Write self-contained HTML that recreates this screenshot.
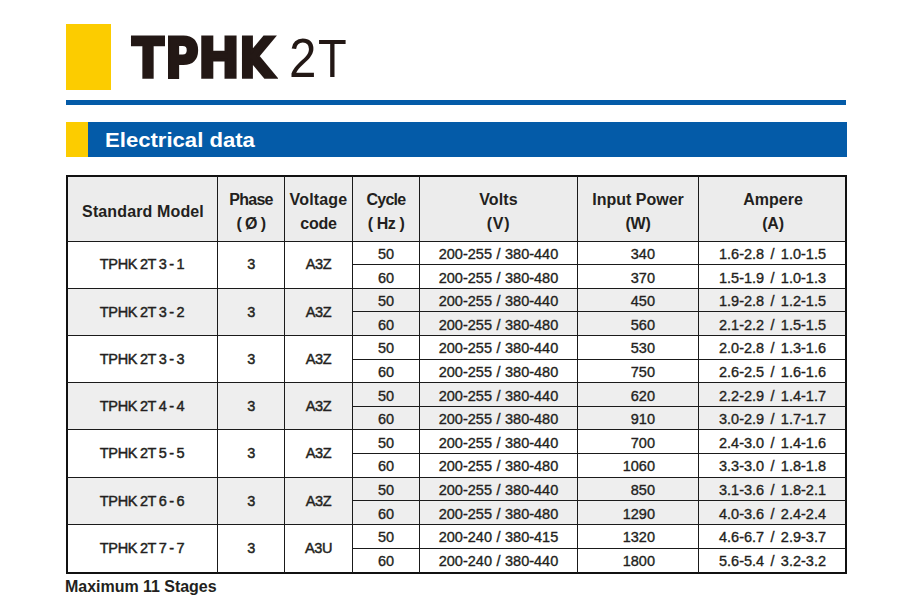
<!DOCTYPE html>
<html lang="en"><head><meta charset="utf-8"><title>TPHK 2T - Electrical data</title>
<style>
html,body{margin:0;padding:0;background:#fff;}
body{width:914px;height:608px;position:relative;overflow:hidden;font-family:"Liberation Sans",sans-serif;color:#231f20;}
.abs{position:absolute;}
.c{position:absolute;text-align:center;white-space:nowrap;}
.h{font-weight:bold;font-size:16px;line-height:24px;letter-spacing:-0.3px;}
.d{font-size:14.5px;line-height:24px;height:24px;-webkit-text-stroke:0.35px #231f20;}
.m{font-size:14.5px;line-height:24px;height:24px;letter-spacing:-0.35px;word-spacing:-0.9px;-webkit-text-stroke:0.45px #231f20;}
.ln{position:absolute;background:#1a1a1a;}
.sh{position:absolute;background:#eeeeee;}
</style></head><body>

<div class="abs" style="left:66px;top:24px;width:45px;height:66px;background:#fccc00"></div>
<div class="abs" id="title" style="left:0;top:0;color:#231815;white-space:nowrap;"><span style="position:absolute;left:131.5px;top:30.5px;font:bold 56px/1 'DejaVu Sans','Liberation Sans',sans-serif;-webkit-text-stroke:3px #231815;transform-origin:0 0;transform:scale(0.838,0.97);">T</span><span style="position:absolute;left:164.5px;top:30.0px;font:bold 56px/1 'DejaVu Sans','Liberation Sans',sans-serif;-webkit-text-stroke:3px #231815;transform-origin:0 0;transform:scale(0.823,0.99);">P</span><span style="position:absolute;left:197.5px;top:30.0px;font:bold 56px/1 'DejaVu Sans','Liberation Sans',sans-serif;-webkit-text-stroke:3px #231815;transform-origin:0 0;transform:scale(0.893,0.99);">H</span><span style="position:absolute;left:238.5px;top:30.0px;font:bold 56px/1 'DejaVu Sans','Liberation Sans',sans-serif;-webkit-text-stroke:3px #231815;transform-origin:0 0;transform:scale(0.812,0.99);">K</span> <span style="position:absolute;left:288.5px;top:30.5px;font:normal 52px/1 'Liberation Sans',sans-serif;transform-origin:0 0;transform:scale(0.948,1.05);">2</span><span style="position:absolute;left:317.5px;top:30.5px;font:normal 52px/1 'Liberation Sans',sans-serif;transform-origin:0 0;transform:scale(0.903,1.035);">T</span></div>
<div class="abs" style="left:66px;top:100px;width:780px;height:5px;background:#045ba8"></div>
<div class="abs" style="left:66px;top:122px;width:22px;height:35px;background:#fccc00"></div>
<div class="abs" style="left:88px;top:122px;width:759px;height:35px;background:#045ba8"></div>
<div class="abs" id="ed" style="left:104.5px;top:122px;height:35px;line-height:37px;font-size:20px;font-weight:bold;color:#fff;white-space:nowrap;transform-origin:0 50%;transform:scaleX(1.105);">Electrical data</div>
<div class="sh" style="left:66px;top:175px;width:781px;height:66px;background:#ececec"></div>
<div class="sh" style="left:66px;top:288px;width:781px;height:47px"></div>
<div class="sh" style="left:66px;top:382px;width:781px;height:47px"></div>
<div class="sh" style="left:66px;top:477px;width:781px;height:47px"></div>
<div class="abs" style="left:66px;top:175px;width:777px;height:395px;border:2px solid #111;"></div>
<div class="ln" style="left:217px;top:176px;width:1px;height:397px"></div>
<div class="ln" style="left:284px;top:176px;width:1px;height:397px"></div>
<div class="ln" style="left:352px;top:176px;width:1px;height:397px"></div>
<div class="ln" style="left:419px;top:176px;width:1px;height:397px"></div>
<div class="ln" style="left:577px;top:176px;width:1px;height:397px"></div>
<div class="ln" style="left:698px;top:176px;width:1px;height:397px"></div>
<div class="ln" style="left:67px;top:241px;width:779px;height:1px"></div>
<div class="ln" style="left:352px;top:264px;width:494px;height:1px"></div>
<div class="ln" style="left:67px;top:288px;width:779px;height:1px"></div>
<div class="ln" style="left:352px;top:311px;width:494px;height:1px"></div>
<div class="ln" style="left:67px;top:335px;width:779px;height:1px"></div>
<div class="ln" style="left:352px;top:359px;width:494px;height:1px"></div>
<div class="ln" style="left:67px;top:382px;width:779px;height:1px"></div>
<div class="ln" style="left:352px;top:406px;width:494px;height:1px"></div>
<div class="ln" style="left:67px;top:429px;width:779px;height:1px"></div>
<div class="ln" style="left:352px;top:453px;width:494px;height:1px"></div>
<div class="ln" style="left:67px;top:477px;width:779px;height:1px"></div>
<div class="ln" style="left:352px;top:500px;width:494px;height:1px"></div>
<div class="ln" style="left:67px;top:524px;width:779px;height:1px"></div>
<div class="ln" style="left:352px;top:548px;width:494px;height:1px"></div>
<div class="c h" style="left:68px;width:150px;top:200px;letter-spacing:0.13px;">Standard Model</div>
<div class="c h" style="left:217px;width:68px;top:188px;letter-spacing:-0.72px;">Phase</div>
<div class="c h" style="left:217px;width:68px;top:212px;letter-spacing:-0.57px;">( Ø )</div>
<div class="c h" style="left:284px;width:69px;top:188px;letter-spacing:0.17px;">Voltage</div>
<div class="c h" style="left:284px;width:69px;top:212px;letter-spacing:-0.17px;">code</div>
<div class="c h" style="left:352px;width:68px;top:188px;letter-spacing:-0.78px;">Cycle</div>
<div class="c h" style="left:352px;width:68px;top:212px;letter-spacing:-0.42px;">( Hz )</div>
<div class="c h" style="left:419px;width:159px;top:188px;letter-spacing:0.1px;">Volts</div>
<div class="c h" style="left:419px;width:159px;top:212px;letter-spacing:0.7px;">(V)</div>
<div class="c h" style="left:577px;width:122px;top:188px;letter-spacing:0px;">Input Power</div>
<div class="c h" style="left:577px;width:122px;top:212px;letter-spacing:-0.3px;">(W)</div>
<div class="c h" style="left:698px;width:150px;top:188px;letter-spacing:0px;">Ampere</div>
<div class="c h" style="left:698px;width:150px;top:212px;letter-spacing:-0.3px;">(A)</div>
<div class="c m" style="left:66px;width:152px;top:252px;">TPHK 2T 3 - 1</div>
<div class="c m" style="left:217px;width:68px;top:252px;">3</div>
<div class="c m" style="left:284px;width:69px;top:252px;">A3Z</div>
<div class="c d" style="left:352px;width:68px;top:242px;">50</div>
<div class="c d" style="left:419px;width:159px;top:242px;word-spacing:0.5px;">200-255 / 380-440</div>
<div class="c d" style="left:577px;width:78px;top:242px;text-align:right;">340</div>
<div class="c d" style="left:698px;width:149px;top:242px;word-spacing:2.3px;">1.6-2.8 / 1.0-1.5</div>
<div class="c d" style="left:352px;width:68px;top:266px;">60</div>
<div class="c d" style="left:419px;width:159px;top:266px;word-spacing:0.5px;">200-255 / 380-480</div>
<div class="c d" style="left:577px;width:78px;top:266px;text-align:right;">370</div>
<div class="c d" style="left:698px;width:149px;top:266px;word-spacing:2.3px;">1.5-1.9 / 1.0-1.3</div>
<div class="c m" style="left:66px;width:152px;top:300px;">TPHK 2T 3 - 2</div>
<div class="c m" style="left:217px;width:68px;top:300px;">3</div>
<div class="c m" style="left:284px;width:69px;top:300px;">A3Z</div>
<div class="c d" style="left:352px;width:68px;top:289px;">50</div>
<div class="c d" style="left:419px;width:159px;top:289px;word-spacing:0.5px;">200-255 / 380-440</div>
<div class="c d" style="left:577px;width:78px;top:289px;text-align:right;">450</div>
<div class="c d" style="left:698px;width:149px;top:289px;word-spacing:2.3px;">1.9-2.8 / 1.2-1.5</div>
<div class="c d" style="left:352px;width:68px;top:313px;">60</div>
<div class="c d" style="left:419px;width:159px;top:313px;word-spacing:0.5px;">200-255 / 380-480</div>
<div class="c d" style="left:577px;width:78px;top:313px;text-align:right;">560</div>
<div class="c d" style="left:698px;width:149px;top:313px;word-spacing:2.3px;">2.1-2.2 / 1.5-1.5</div>
<div class="c m" style="left:66px;width:152px;top:347px;">TPHK 2T 3 - 3</div>
<div class="c m" style="left:217px;width:68px;top:347px;">3</div>
<div class="c m" style="left:284px;width:69px;top:347px;">A3Z</div>
<div class="c d" style="left:352px;width:68px;top:336px;">50</div>
<div class="c d" style="left:419px;width:159px;top:336px;word-spacing:0.5px;">200-255 / 380-440</div>
<div class="c d" style="left:577px;width:78px;top:336px;text-align:right;">530</div>
<div class="c d" style="left:698px;width:149px;top:336px;word-spacing:2.3px;">2.0-2.8 / 1.3-1.6</div>
<div class="c d" style="left:352px;width:68px;top:360px;">60</div>
<div class="c d" style="left:419px;width:159px;top:360px;word-spacing:0.5px;">200-255 / 380-480</div>
<div class="c d" style="left:577px;width:78px;top:360px;text-align:right;">750</div>
<div class="c d" style="left:698px;width:149px;top:360px;word-spacing:2.3px;">2.6-2.5 / 1.6-1.6</div>
<div class="c m" style="left:66px;width:152px;top:394px;">TPHK 2T 4 - 4</div>
<div class="c m" style="left:217px;width:68px;top:394px;">3</div>
<div class="c m" style="left:284px;width:69px;top:394px;">A3Z</div>
<div class="c d" style="left:352px;width:68px;top:384px;">50</div>
<div class="c d" style="left:419px;width:159px;top:384px;word-spacing:0.5px;">200-255 / 380-440</div>
<div class="c d" style="left:577px;width:78px;top:384px;text-align:right;">620</div>
<div class="c d" style="left:698px;width:149px;top:384px;word-spacing:2.3px;">2.2-2.9 / 1.4-1.7</div>
<div class="c d" style="left:352px;width:68px;top:407px;">60</div>
<div class="c d" style="left:419px;width:159px;top:407px;word-spacing:0.5px;">200-255 / 380-480</div>
<div class="c d" style="left:577px;width:78px;top:407px;text-align:right;">910</div>
<div class="c d" style="left:698px;width:149px;top:407px;word-spacing:2.3px;">3.0-2.9 / 1.7-1.7</div>
<div class="c m" style="left:66px;width:152px;top:441px;">TPHK 2T 5 - 5</div>
<div class="c m" style="left:217px;width:68px;top:441px;">3</div>
<div class="c m" style="left:284px;width:69px;top:441px;">A3Z</div>
<div class="c d" style="left:352px;width:68px;top:431px;">50</div>
<div class="c d" style="left:419px;width:159px;top:431px;word-spacing:0.5px;">200-255 / 380-440</div>
<div class="c d" style="left:577px;width:78px;top:431px;text-align:right;">700</div>
<div class="c d" style="left:698px;width:149px;top:431px;word-spacing:2.3px;">2.4-3.0 / 1.4-1.6</div>
<div class="c d" style="left:352px;width:68px;top:454px;">60</div>
<div class="c d" style="left:419px;width:159px;top:454px;word-spacing:0.5px;">200-255 / 380-480</div>
<div class="c d" style="left:577px;width:78px;top:454px;text-align:right;">1060</div>
<div class="c d" style="left:698px;width:149px;top:454px;word-spacing:2.3px;">3.3-3.0 / 1.8-1.8</div>
<div class="c m" style="left:66px;width:152px;top:489px;">TPHK 2T 6 - 6</div>
<div class="c m" style="left:217px;width:68px;top:489px;">3</div>
<div class="c m" style="left:284px;width:69px;top:489px;">A3Z</div>
<div class="c d" style="left:352px;width:68px;top:478px;">50</div>
<div class="c d" style="left:419px;width:159px;top:478px;word-spacing:0.5px;">200-255 / 380-440</div>
<div class="c d" style="left:577px;width:78px;top:478px;text-align:right;">850</div>
<div class="c d" style="left:698px;width:149px;top:478px;word-spacing:2.3px;">3.1-3.6 / 1.8-2.1</div>
<div class="c d" style="left:352px;width:68px;top:502px;">60</div>
<div class="c d" style="left:419px;width:159px;top:502px;word-spacing:0.5px;">200-255 / 380-480</div>
<div class="c d" style="left:577px;width:78px;top:502px;text-align:right;">1290</div>
<div class="c d" style="left:698px;width:149px;top:502px;word-spacing:2.3px;">4.0-3.6 / 2.4-2.4</div>
<div class="c m" style="left:66px;width:152px;top:536px;">TPHK 2T 7 - 7</div>
<div class="c m" style="left:217px;width:68px;top:536px;">3</div>
<div class="c m" style="left:284px;width:69px;top:536px;">A3U</div>
<div class="c d" style="left:352px;width:68px;top:525px;">50</div>
<div class="c d" style="left:419px;width:159px;top:525px;word-spacing:0.5px;">200-240 / 380-415</div>
<div class="c d" style="left:577px;width:78px;top:525px;text-align:right;">1320</div>
<div class="c d" style="left:698px;width:149px;top:525px;word-spacing:2.3px;">4.6-6.7 / 2.9-3.7</div>
<div class="c d" style="left:352px;width:68px;top:549px;">60</div>
<div class="c d" style="left:419px;width:159px;top:549px;word-spacing:0.5px;">200-240 / 380-440</div>
<div class="c d" style="left:577px;width:78px;top:549px;text-align:right;">1800</div>
<div class="c d" style="left:698px;width:149px;top:549px;word-spacing:2.3px;">5.6-5.4 / 3.2-3.2</div>
<div class="abs h" id="mx" style="left:65px;top:575px;white-space:nowrap;letter-spacing:-0.03px;">Maximum 11 Stages</div>
</body></html>
